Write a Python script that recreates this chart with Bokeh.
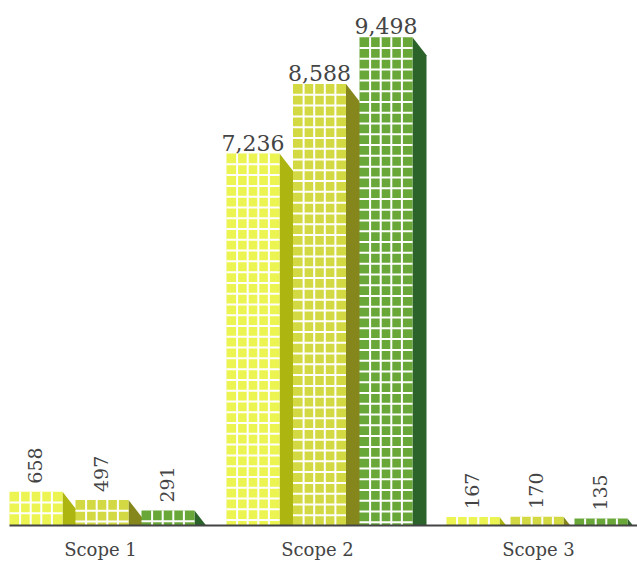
from bokeh.plotting import figure
from bokeh.models import FixedTicker, Range1d
from bokeh.core.properties import value
from bokeh.embed import file_html
from bokeh.resources import INLINE

# Emissions by scope, three reporting series per scope
scopes = ["Scope 1", "Scope 2", "Scope 3"]
series_a = [658, 7236, 167]
series_b = [497, 8588, 170]
series_c = [291, 9498, 135]

front_colors = ["#ECF451", "#D3D942", "#6AA739"]
side_colors = ["#ADB511", "#85871C", "#2B632B"]

W, H = 637, 562
BASE_PX = 526              # pixel row of the zero line
PX_PER_UNIT = 0.0515       # vertical scale
BAR_W = 53
DEPTH_X, DEPTH_Y = 14, 18  # extrusion of the side face, in pixels
CELL_W, CELL_H = 10.6, 10.8
GROUP_STARTS = [9, 226, 446]
BAR_STEPS = [66, 66.5, 64]
FONT = value("DejaVu Serif")
INK = "#444444"

p = figure(width=W, height=H, output_backend="svg", toolbar_location=None,
           x_range=Range1d(0, W), y_range=Range1d(0, BASE_PX / PX_PER_UNIT),
           min_border_left=0, min_border_right=0, min_border_top=0,
           min_border_bottom=H - BASE_PX, y_axis_location=None,
           outline_line_color=None, background_fill_color="white")
p.grid.visible = False

all_series = [series_a, series_b, series_c]
for s, values in enumerate(all_series):
    for g, v in enumerate(values):
        x0 = GROUP_STARTS[g] + s * BAR_STEPS[g]
        x1 = x0 + BAR_W
        dy = DEPTH_Y / PX_PER_UNIT

        # Side face: slanted top, cut off at the zero line
        if v > dy:
            xs = [x1, x1 + DEPTH_X, x1 + DEPTH_X, x1]
            ys = [v, v - dy, 0, 0]
        else:
            xs = [x1, x1 + DEPTH_X * v / dy, x1]
            ys = [v, 0, 0]
        p.patch(xs, ys, fill_color=side_colors[s], line_color=None)

        # Front face
        p.quad(left=x0, right=x1, bottom=0, top=v,
               fill_color=front_colors[s], line_color=None)

        # White window grid on the front face
        for c in range(1, 5):
            xc = x0 + c * CELL_W
            p.segment(xc, 0, xc, v, line_color="white", line_width=2)
        row = v - CELL_H / PX_PER_UNIT
        while row > 1.5 / PX_PER_UNIT:
            p.segment(x0, row, x1, row, line_color="white", line_width=2)
            row -= CELL_H / PX_PER_UNIT

        # Value label: flat on tall bars, turned on short ones
        xm = (x0 + x1) / 2
        if v >= 1000:
            p.text([xm], [v + 11 / PX_PER_UNIT], text=[f"{v:,}"],
                   text_align="center", text_baseline="alphabetic",
                   text_font=FONT, text_font_size="22px", text_color=INK)
        else:
            p.text([xm - 1], [v + 8 / PX_PER_UNIT], text=[f"{v}"], angle=90,
                   angle_units="deg", text_align="left",
                   text_baseline="middle",
                   text_font=FONT, text_font_size="19px", text_color=INK)

# Category axis along the zero line
centers = [100, 317, 538]
ax = p.xaxis[0]
ax.ticker = FixedTicker(ticks=centers)
ax.major_label_overrides = dict(zip(centers, scopes))
ax.bounds = (9, W)
ax.axis_line_color = INK
ax.axis_line_width = 2
ax.major_tick_line_color = None
ax.minor_tick_line_color = None
ax.major_tick_out = 0
ax.major_tick_in = 0
ax.major_label_standoff = 13
ax.major_label_text_font = "DejaVu Serif"
ax.major_label_text_font_size = "18px"
ax.major_label_text_color = INK

open("out.html", "w").write(file_html(p, INLINE))
